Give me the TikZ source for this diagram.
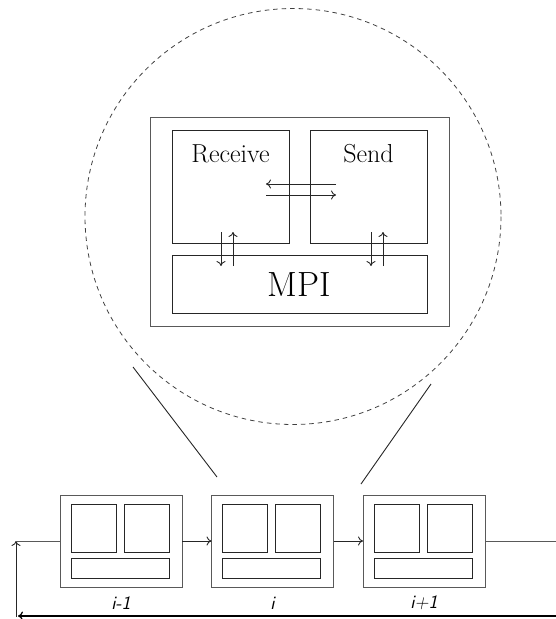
\documentclass[tikz,border=0pt]{standalone}
\usetikzlibrary{calc,arrows.meta}
\begin{document}
\begin{tikzpicture}[x=1pt,y=-1pt,
  every node/.style={inner sep=0pt,outer sep=0pt},
  frame/.style={draw=black!65,line width=1pt,rectangle},
  part/.style={draw=black!85,line width=0.9pt,rectangle},
  link/.style={draw=black!85,line width=0.9pt},
  tip/.style={-{To[length=5pt,width=9pt]}},
  unitlabel/.style={font=\sffamily\itshape\fontsize{19}{19}\selectfont}]
\useasboundingbox (0,0) rectangle (556,619);

% magnified view of one process
\draw[black!75,line width=0.8pt,dash pattern=on 4.5pt off 4pt] (293,216.5) circle (208);
\node[frame,minimum width=299pt,minimum height=209pt] (outer) at (299.5,221.5) {};
\node[part,minimum width=117pt,minimum height=113pt] (recv) at (230.5,186.5) {};
\node[part,minimum width=117pt,minimum height=113pt] (send) at (368.5,186.5) {};
\node[part,minimum width=255pt,minimum height=58pt] (mpi) at (299.5,284) {};
\node[font=\fontsize{26}{26}\selectfont] (recvtext) at (230.5,154) {Receive};
\node[font=\fontsize{26}{26}\selectfont] (sendtext) at (368.5,154) {Send};
\node[font=\fontsize{35}{35}\selectfont] (mpitext) at (299.5,285) {MPI};

% exchange between receive and send
\coordinate (xa) at (336,184); \coordinate (xb) at (266,184);
\coordinate (xc) at (266,195); \coordinate (xd) at (336,195);
\draw[link,tip] (xa) -- (xb);
\draw[link,tip] (xc) -- (xd);

% traffic to and from MPI
\coordinate (ra) at (221,232); \coordinate (rb) at (221,266);
\coordinate (rc) at (233,266); \coordinate (rd) at (233,232);
\coordinate (sa) at (371,232); \coordinate (sb) at (371,266);
\coordinate (sc) at (383,266); \coordinate (sd) at (383,232);
\draw[link,tip] (ra) -- (rb);
\draw[link,tip] (rc) -- (rd);
\draw[link,tip] (sa) -- (sb);
\draw[link,tip] (sc) -- (sd);

% ring of processes
\foreach \n/\cx/\lab in {1/121/{i-1},2/272.5/{i},3/424/{i+1}}{
  \node[frame,minimum width=122pt,minimum height=92pt] (p\n) at (\cx,541) {};
  \node[part,minimum width=45pt,minimum height=48pt] (p\n r) at ($(p\n.north west)+(33.5,33)$) {};
  \node[part,minimum width=45pt,minimum height=48pt] (p\n s) at ($(p\n.north west)+(86.5,33)$) {};
  \node[part,minimum width=98pt,minimum height=20pt] (p\n m) at ($(p\n.north west)+(60,73)$) {};
  \node[unitlabel] (l\n) at (\cx,603) {\lab};
}

% zoom lines from the magnified view to process i
\coordinate (za) at (133,367); \coordinate (zb) at (217,477);
\coordinate (zc) at (431,384); \coordinate (zd) at (361,484);
\draw[link] (za) -- (zb);
\draw[link] (zc) -- (zd);

% connections along the ring
\coordinate (outend) at (556,541);
\coordinate (backstart) at (556,616);
\coordinate (backend) at (18,616);
\coordinate (upstart) at (16,617);
\coordinate (upend) at (16,541);
\draw[link,tip] (p1.east) -- (p2.west);
\draw[link,tip] (p2.east) -- (p3.west);
\draw[link,draw=black!65] (p3.east) -- (outend);
\draw[link,line width=1.2pt,draw=black,tip] (backstart) -- (backend);
\draw[link,tip] (upstart) -- (upend);
\draw[link,draw=black!65] (upend) -- (p1.west);
\end{tikzpicture}
\end{document}
